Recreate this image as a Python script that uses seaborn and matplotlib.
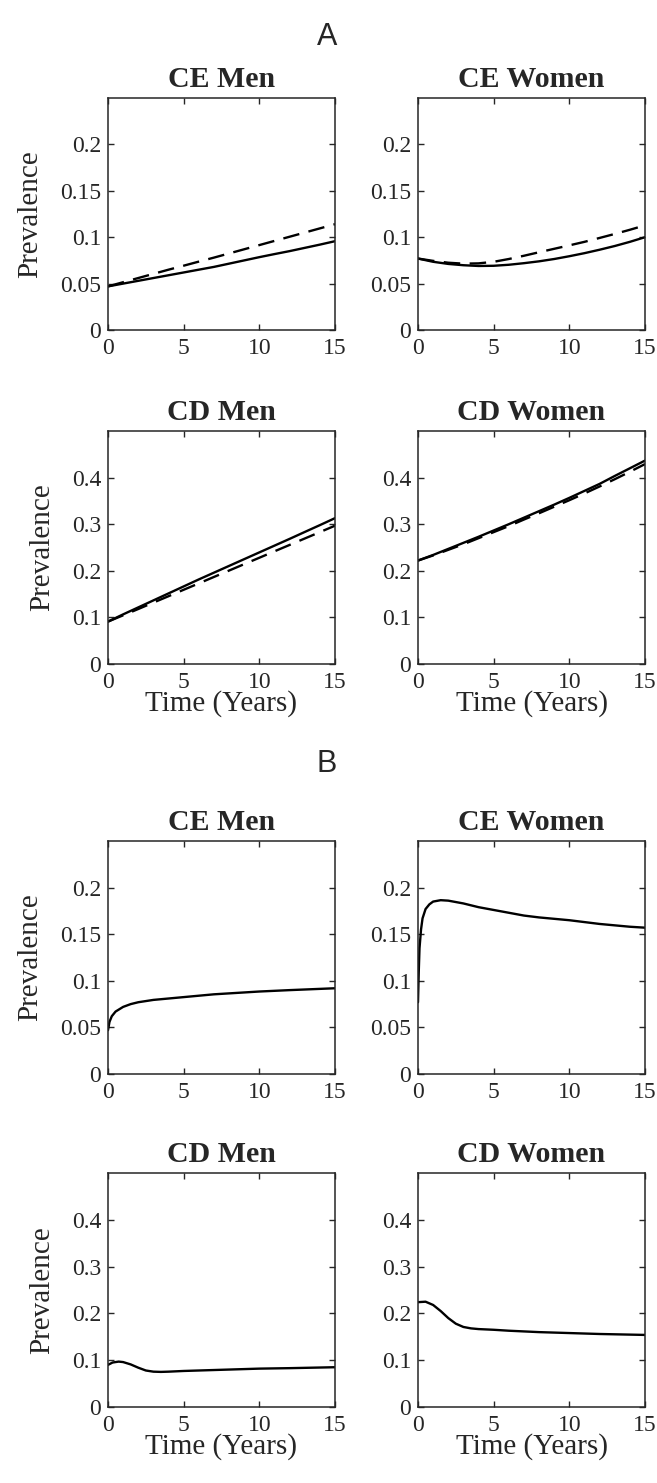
import numpy as np
import pandas as pd
import matplotlib
matplotlib.use("Agg")
import matplotlib.pyplot as plt
import seaborn as sns

# ---------------- data ----------------
t_A = [0, 1, 2, 3, 4, 5, 6, 7, 8, 9, 10, 11, 12, 13, 14, 15]

A_ce_men_solid = [0.047, 0.050, 0.053, 0.056, 0.059, 0.062, 0.065, 0.068, 0.0715, 0.075,
                  0.0785, 0.0818, 0.085, 0.0885, 0.092, 0.0957]
A_ce_men_dash = [0.047, 0.0515, 0.056, 0.0605, 0.065, 0.0693, 0.0737, 0.078, 0.0825, 0.087,
                 0.0915, 0.096, 0.1005, 0.105, 0.1095, 0.114]

A_ce_women_solid = [0.077, 0.0735, 0.0712, 0.0698, 0.069, 0.0692, 0.0703, 0.072, 0.074, 0.0765,
                    0.0795, 0.0828, 0.0865, 0.0905, 0.095, 0.100]
A_ce_women_dash = [0.077, 0.0745, 0.0725, 0.0715, 0.0718, 0.0735, 0.0765, 0.080, 0.0838, 0.0875,
                   0.0912, 0.095, 0.0992, 0.1035, 0.108, 0.1128]

A_cd_men_solid = [0.091, 0.1065, 0.1215, 0.1365, 0.1515, 0.1665, 0.1815, 0.196, 0.2105, 0.225,
                  0.2395, 0.254, 0.2685, 0.2833, 0.298, 0.313]
A_cd_men_dash = [0.091, 0.1045, 0.118, 0.1318, 0.1455, 0.1593, 0.173, 0.1868, 0.2005, 0.2143,
                 0.228, 0.2418, 0.2555, 0.2693, 0.283, 0.2968]

A_cd_women_solid = [0.222, 0.234, 0.247, 0.260, 0.273, 0.2865, 0.300, 0.314, 0.328, 0.342,
                    0.3565, 0.3715, 0.3865, 0.4035, 0.420, 0.4365]
A_cd_women_dash = [0.222, 0.233, 0.245, 0.257, 0.270, 0.283, 0.296, 0.310, 0.3235, 0.3375,
                   0.3515, 0.366, 0.381, 0.3965, 0.4125, 0.429]

t_B_ce_men = [0, 0.1, 0.25, 0.5, 1, 1.5, 2, 3, 4, 5, 6, 7, 8, 9, 10, 12, 15]
B_ce_men = [0.047, 0.056, 0.062, 0.067, 0.072, 0.075, 0.077, 0.0795, 0.081, 0.0825, 0.084,
            0.0855, 0.0865, 0.0875, 0.0885, 0.090, 0.092]

t_B_ce_women = [0, 0.05, 0.1, 0.2, 0.3, 0.5, 0.75, 1, 1.5, 2, 3, 4, 5, 6, 7, 8, 9, 10, 11, 12, 13, 14, 15]
B_ce_women = [0.077, 0.11, 0.135, 0.155, 0.167, 0.177, 0.182, 0.185, 0.1865, 0.186, 0.183,
              0.179, 0.176, 0.173, 0.170, 0.168, 0.1665, 0.165, 0.163, 0.161, 0.1595, 0.158, 0.157]

t_B_cd_men = [0, 0.3, 0.7, 1, 1.5, 2, 2.5, 3, 3.5, 4, 5, 6, 7, 8, 9, 10, 12, 15]
B_cd_men = [0.090, 0.095, 0.097, 0.096, 0.091, 0.084, 0.078, 0.0755, 0.075, 0.0755, 0.077,
            0.078, 0.079, 0.080, 0.081, 0.082, 0.083, 0.085]

t_B_cd_women = [0, 0.5, 1, 1.5, 2, 2.5, 3, 3.5, 4, 5, 6, 7, 8, 10, 12, 15]
B_cd_women = [0.224, 0.225, 0.218, 0.205, 0.190, 0.178, 0.171, 0.168, 0.1665, 0.165, 0.163,
              0.1615, 0.160, 0.158, 0.156, 0.154]

titles = ["CE Men", "CE Women", "CD Men", "CD Women"]
x_ticks = [0, 5, 10, 15]
y_ticks_ce = [0, 0.05, 0.1, 0.15, 0.2]
y_ticks_cd = [0, 0.1, 0.2, 0.3, 0.4]
y_tick_labels_ce = ["0", "0.05", "0.1", "0.15", "0.2"]
y_tick_labels_cd = ["0", "0.1", "0.2", "0.3", "0.4"]

# ---------------- style ----------------
sns.set_style("ticks")
plt.rcParams['font.family'] = ['Liberation Serif', 'DejaVu Serif']
AX_COLOR = "#262626"

W, H = 657, 1483
fig = plt.figure(figsize=(W / 100, H / 100), dpi=100)

col_x = [108, 418]
ax_w = 227
rows_px = [(98, 330), (431, 664), (841, 1074), (1173, 1407)]


def make_ax(col, row):
    top, bot = rows_px[row]
    return fig.add_axes([col_x[col] / W, 1 - bot / H, ax_w / W, (bot - top) / H])


def style_ax(ax, title, ce, xlabel, ylabel):
    ax.set_xlim(0, 15)
    if ce:
        ax.set_ylim(0, 0.25)
        ax.set_yticks(y_ticks_ce)
        ax.set_yticklabels(y_tick_labels_ce)
    else:
        ax.set_ylim(0, 0.5)
        ax.set_yticks(y_ticks_cd)
        ax.set_yticklabels(y_tick_labels_cd)
    ax.set_xticks(x_ticks)
    ax.set_xticklabels([str(v) for v in x_ticks])
    ax.tick_params(direction="in", length=4, width=1.0, color=AX_COLOR,
                   top=True, right=True, labelsize=17, labelcolor="#262626", pad=5)
    ax.tick_params(axis="x", pad=6)
    for s in ax.spines.values():
        s.set_visible(True)
        s.set_color(AX_COLOR)
        s.set_linewidth(1.1)
    ax.set_title(title, fontsize=21.5, fontweight="bold", pad=8)
    ax.set_xlabel("Time (Years)" if xlabel else "", fontsize=21, color="#262626", labelpad=-2)
    ax.set_ylabel("Prevalence" if ylabel else "", fontsize=21, color="#262626", labelpad=12)


def draw(ax, t, y, dashed=False):
    df = pd.DataFrame({"t": t, "y": y})
    if dashed:
        sns.lineplot(data=df, x="t", y="y", ax=ax, color="black", lw=1.7,
                     linestyle=(0, (7, 4)), legend=False)
    else:
        sns.lineplot(data=df, x="t", y="y", ax=ax, color="black", lw=1.7, legend=False)


# Section A
ax = make_ax(0, 0)
draw(ax, t_A, A_ce_men_dash, True); draw(ax, t_A, A_ce_men_solid)
style_ax(ax, titles[0], True, False, True)
ax = make_ax(1, 0)
draw(ax, t_A, A_ce_women_dash, True); draw(ax, t_A, A_ce_women_solid)
style_ax(ax, titles[1], True, False, False)
ax = make_ax(0, 1)
draw(ax, t_A, A_cd_men_dash, True); draw(ax, t_A, A_cd_men_solid)
style_ax(ax, titles[2], False, True, True)
ax = make_ax(1, 1)
draw(ax, t_A, A_cd_women_dash, True); draw(ax, t_A, A_cd_women_solid)
style_ax(ax, titles[3], False, True, False)

# Section B
ax = make_ax(0, 2)
draw(ax, t_B_ce_men, B_ce_men)
style_ax(ax, titles[0], True, False, True)
ax = make_ax(1, 2)
draw(ax, t_B_ce_women, B_ce_women)
style_ax(ax, titles[1], True, False, False)
ax = make_ax(0, 3)
draw(ax, t_B_cd_men, B_cd_men)
style_ax(ax, titles[2], False, True, True)
ax = make_ax(1, 3)
draw(ax, t_B_cd_women, B_cd_women)
style_ax(ax, titles[3], False, True, False)

fig.text(327 / W, 1 - 37 / H, "A", ha="center", va="center", fontsize=22,
         family=["Liberation Sans", "DejaVu Sans"])
fig.text(327 / W, 1 - 764 / H, "B", ha="center", va="center", fontsize=22,
         family=["Liberation Sans", "DejaVu Sans"])

fig.savefig("out.png", dpi=100, facecolor="white")
